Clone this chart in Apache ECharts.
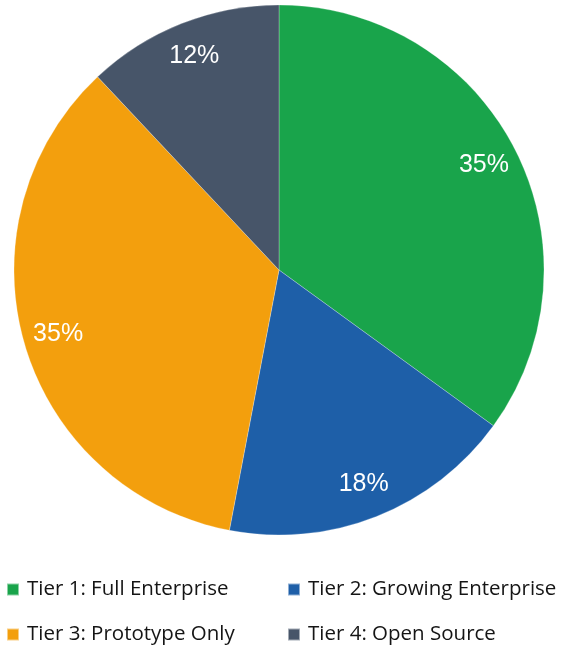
<!DOCTYPE html>
<html>
<head>
<meta charset="utf-8">
<script src="https://cdn.jsdelivr.net/npm/echarts@6/dist/echarts.min.js"></script>
<style>
html,body{margin:0;padding:0;background:#fff;}
#chart{width:565px;height:649px;}
</style>
</head>
<body>
<div id="chart"></div>
<script>
const categories = ["Tier 1: Full Enterprise", "Tier 2: Growing Enterprise", "Tier 3: Prototype Only", "Tier 4: Open Source"];
const shares = [35, 18, 35, 12];
const colors = ["#19A44B", "#1E5FA8", "#F39F0D", "#475569"];

const chart = echarts.init(document.getElementById('chart'), null, {renderer: 'canvas'});
const mainData = categories.map((n, i) => ({name: n, value: shares[i], itemStyle: {color: colors[i]}}));
const labelData = categories.map((n, i) => ({name: n, value: shares[i]}));

const legendText = {color: '#151515', fontSize: 20.5, fontFamily: '"Open Sans", sans-serif', lineHeight: 20, padding: [0, 0, 0, 3]};

chart.setOption({
  animation: false,
  legend: [
    {orient: 'vertical', left: 6, top: 579, padding: 0, itemGap: 24, itemWidth: 12, itemHeight: 12, icon: 'rect',
     data: [categories[0], categories[2]], textStyle: legendText, selectedMode: false},
    {orient: 'vertical', left: 287, top: 579, padding: 0, itemGap: 24, itemWidth: 12, itemHeight: 12, icon: 'rect',
     data: [categories[1], categories[3]], textStyle: legendText, selectedMode: false}
  ],
  series: [
    {
      type: 'pie',
      center: [279, 270],
      radius: [0, 265],
      startAngle: 90,
      clockwise: true,
      label: {show: false},
      labelLine: {show: false},
      itemStyle: {borderColor: 'rgba(255,255,255,0.5)', borderWidth: 0.5},
      emphasis: {disabled: true},
      data: mainData
    },
    {
      type: 'pie',
      center: [279, 270],
      radius: [189, 265],
      startAngle: 90,
      clockwise: true,
      silent: true,
      legendHoverLink: false,
      itemStyle: {color: 'rgba(0,0,0,0)', borderWidth: 0},
      label: {show: true, position: 'inside', formatter: '{c}%', color: '#ffffff', fontSize: 25,
              fontFamily: '"Liberation Sans", Arial, sans-serif'},
      labelLine: {show: false},
      emphasis: {disabled: true},
      data: labelData
    }
  ]
});
</script>
</body>
</html>
